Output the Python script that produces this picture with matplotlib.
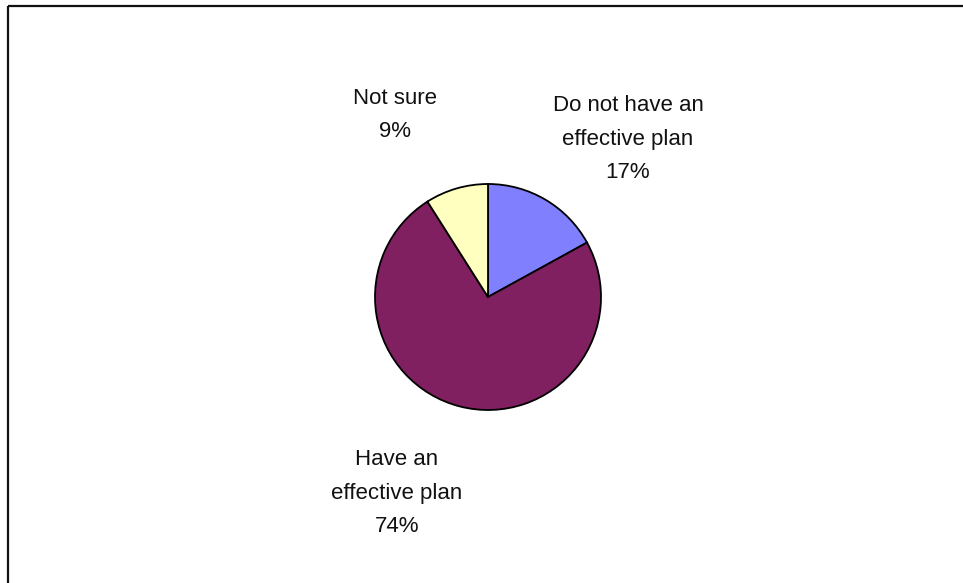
import matplotlib.pyplot as plt

# data
labels = ['Do not have an\neffective plan', 'Have an\neffective plan', 'Not sure']
shares = [17, 74, 9]
colors = ['#8080FF', '#802060', '#FFFFC0']

W, H = 963, 583
fig = plt.figure(figsize=(W / 100, H / 100), dpi=100)
ax = fig.add_axes([0, 0, 1, 1])

# pie in pixel-like data coords (y up)
cx, cy, r = 488, H - 297, 113
wedges, _ = ax.pie(shares, colors=colors, startangle=90, counterclock=False,
                   center=(cx, cy), radius=r, frame=True,
                   wedgeprops=dict(edgecolor='black', linewidth=1.3))

# label positions (pixel centres in the picture)
label_pos = [(628, 139), (397, 493), (395, 115)]
for lab, val, (lx, ly) in zip(labels, shares, label_pos):
    ax.text(lx, H - ly, f'{lab}\n{val}%', ha='center', va='center',
            fontsize=16, family=['Liberation Sans', 'DejaVu Sans'],
            linespacing=1.79, color='#111111')

ax.set_xlim(0, W)
ax.set_ylim(0, H)
ax.set_aspect('equal')
ax.axis('off')

# chart-area border (only top and left visible in the crop)
ax.plot([7.5, W], [H - 5.5, H - 5.5], color='#111111', lw=1.6, solid_capstyle='butt')
ax.plot([7.5, 7.5], [0, H - 5.5], color='#111111', lw=1.6, solid_capstyle='butt')

fig.savefig('out.png', dpi=100)
